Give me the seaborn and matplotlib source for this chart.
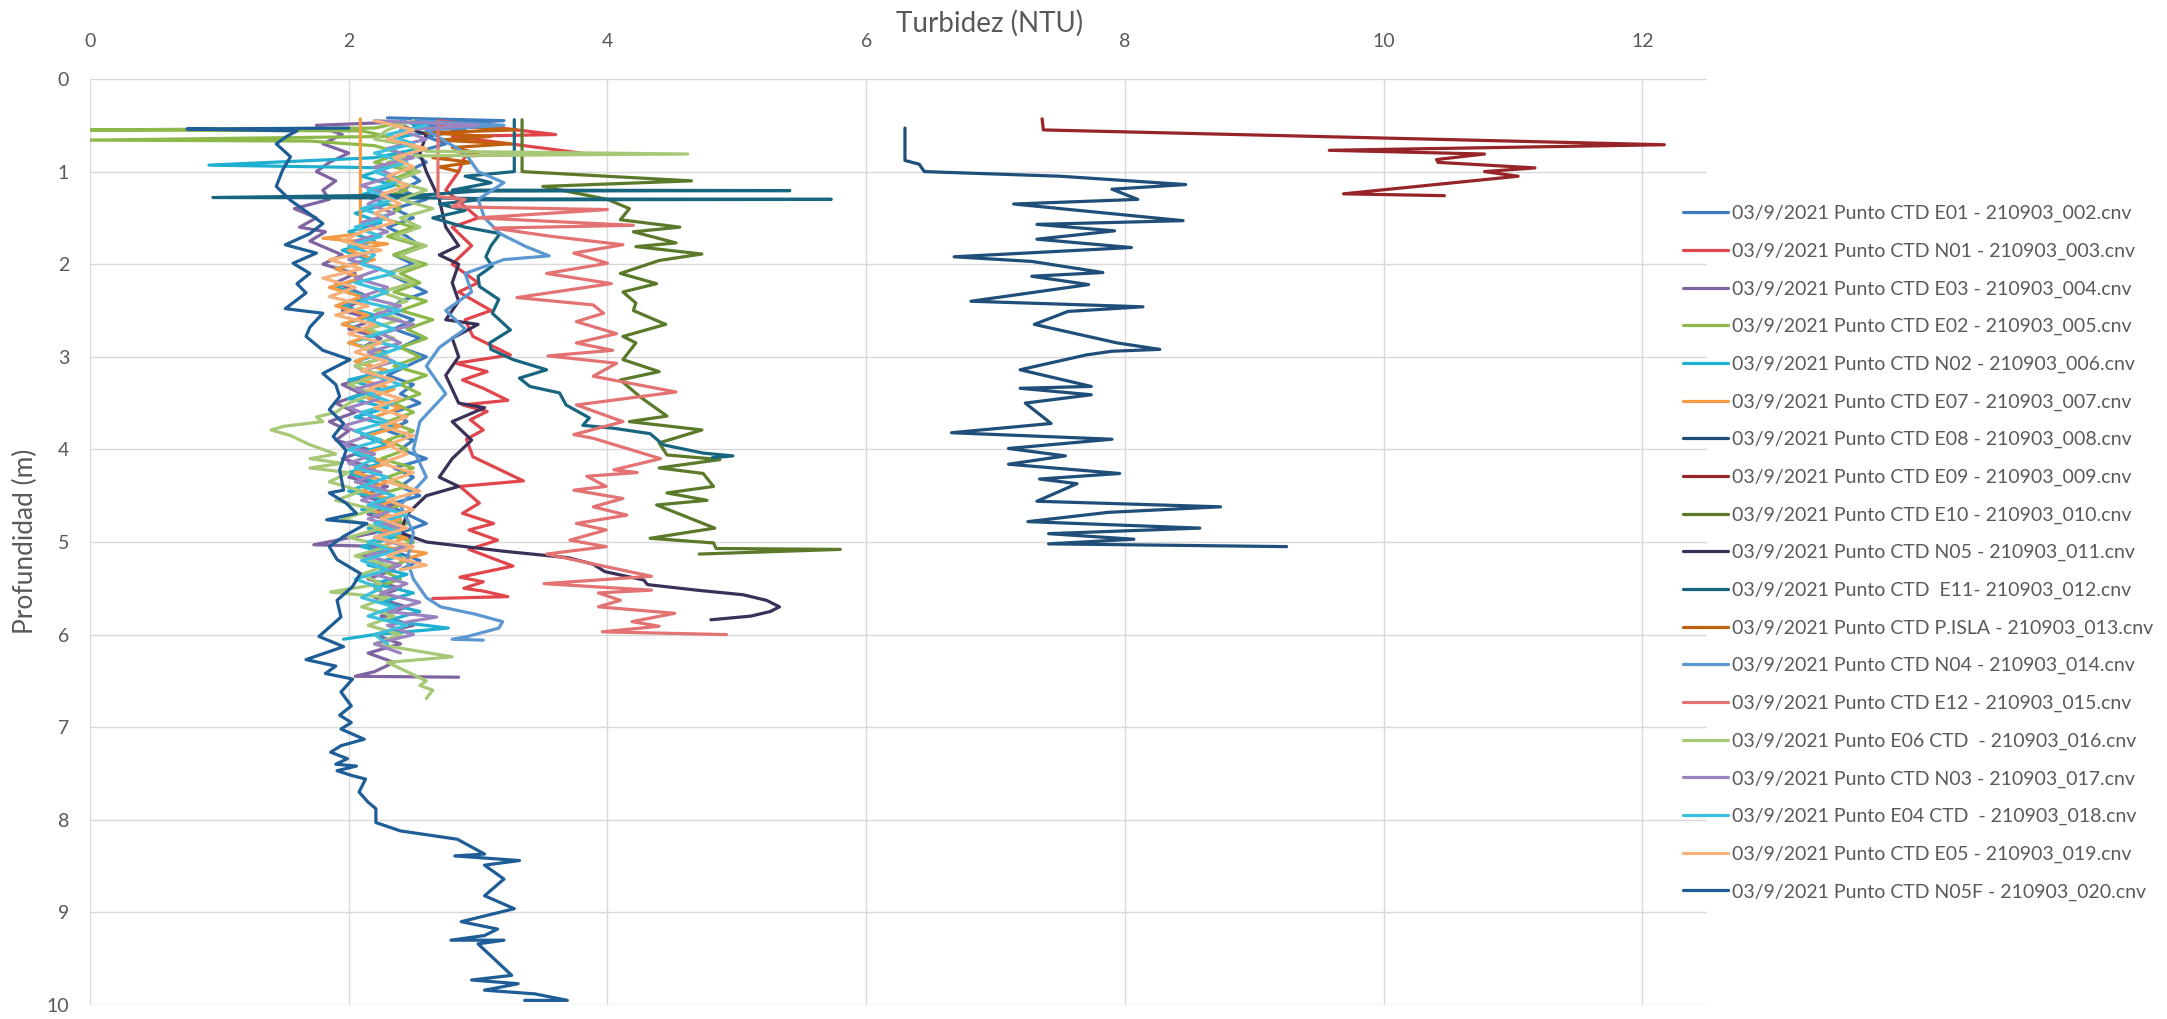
import pandas as pd
import matplotlib
matplotlib.use("Agg")
import matplotlib.pyplot as plt
import seaborn as sns

# --- datos: profundidad (m) y turbidez (NTU) por perfil ---
e01_prof = [0.42, 0.45, 0.5, 0.55, 0.62, 0.7, 0.8, 0.9, 1.0, 1.1, 1.2, 1.3, 1.4, 1.5, 1.6, 1.7, 1.8, 1.9, 2.0, 2.1,
            2.2, 2.3, 2.4, 2.5, 2.6, 2.7, 2.8, 2.9, 3.0, 3.1, 3.2, 3.3, 3.4, 3.5, 3.6, 3.7, 3.8, 3.9, 4.0, 4.1,
            4.2, 4.3, 4.4, 4.5, 4.6, 4.7, 4.8, 4.9, 5.0, 5.1, 5.2, 5.3]
e01_ntu = [2.3, 3.2, 2.5, 2.9, 2.6, 2.75, 2.5, 2.6, 2.45, 2.55, 2.4, 2.6, 2.35, 2.5, 2.3, 2.45, 2.55, 2.35, 2.5, 2.3,
           2.45, 2.6, 2.4, 2.3, 2.5, 2.35, 2.55, 2.4, 2.6, 2.45, 2.3, 2.5, 2.4, 2.55, 2.35, 2.45, 2.3, 2.5, 2.4, 2.6,
           2.35, 2.5, 2.4, 2.55, 2.3, 2.45, 2.6, 2.4, 2.5, 2.35, 2.55, 2.4]

n01_prof = [0.45, 0.6, 0.62, 0.8, 0.83, 1.0, 1.2, 1.5, 1.6, 1.8, 2.0, 2.2, 2.3, 2.5, 2.6, 2.78, 2.98, 3.07, 3.16,
            3.25, 3.34, 3.47, 3.52, 3.59, 3.68, 3.79, 3.89, 4.08, 4.34, 4.4, 4.58, 4.69, 4.8, 4.87, 4.98, 5.08,
            5.26, 5.38, 5.43, 5.5, 5.53, 5.59, 5.61]
n01_ntu = [2.7, 3.6, 2.8, 3.8, 2.9, 2.85, 2.75, 3.0, 2.8, 2.95, 2.8, 3.0, 2.85, 3.1, 2.9, 2.96, 3.25, 2.83, 3.07,
           2.88, 3.04, 3.23, 2.88, 3.07, 2.94, 3.04, 2.91, 2.96, 3.35, 2.86, 3.01, 2.88, 3.12, 2.93, 3.15, 2.93,
           3.27, 2.86, 3.04, 2.89, 3.04, 3.23, 2.65]

e03_prof = [0.47, 0.5, 0.6, 0.7, 0.8, 0.9, 1.0, 1.1, 1.2, 1.3, 1.4, 1.5, 1.6, 1.65, 1.75, 1.9, 2.0, 2.1, 2.2, 2.35,
            2.5, 2.6, 2.7, 2.8, 2.9, 3.0, 3.1, 3.2, 3.3, 3.4, 3.5, 3.6, 3.7, 3.8, 3.9, 4.0, 4.1, 4.2, 4.3, 4.4,
            4.5, 4.6, 4.7, 4.8, 4.9, 5.03, 5.05, 5.15, 5.3, 5.4, 5.5, 5.6, 5.7, 5.8, 5.9, 6.0, 6.1, 6.2, 6.3,
            6.4, 6.45, 6.46]
e03_ntu = [2.3, 1.75, 1.95, 1.8, 2.0, 1.85, 1.75, 1.9, 1.8, 1.85, 1.58, 1.75, 1.62, 1.82, 1.7, 1.95, 1.8, 2.05, 1.9,
           2.15, 1.95, 2.2, 2.0, 2.25, 2.1, 2.3, 2.05, 2.2, 1.95, 2.1, 1.9, 2.05, 1.85, 2.0, 1.9, 2.15, 1.95, 2.2,
           2.0, 2.3, 2.1, 2.35, 2.15, 2.4, 2.2, 1.73, 2.3, 2.1, 2.35, 2.15, 2.4, 2.2, 2.45, 2.25, 2.5, 2.2, 2.4,
           2.15, 2.35, 2.2, 2.05, 2.85]

e02_prof = [0.47, 0.53, 0.55, 0.56, 0.62, 0.66, 0.67, 0.72, 0.8, 0.9, 1.0, 1.1, 1.2, 1.3, 1.4, 1.5, 1.6, 1.7, 1.8,
            1.9, 2.0, 2.1, 2.2, 2.3, 2.4, 2.5, 2.6, 2.7, 2.8, 2.9, 3.0, 3.1, 3.2, 3.3, 3.4, 3.5, 3.6, 3.7, 3.8,
            3.9, 4.0, 4.1, 4.2, 4.3, 4.4, 4.5, 4.6, 4.7, 4.8, 4.9, 5.0, 5.1, 5.2, 5.3, 5.4, 5.5, 5.6]
e02_ntu = [2.4, 2.2, 0.0, 2.1, 2.3, 0.0, 1.7, 2.2, 2.4, 2.2, 2.5, 2.3, 2.45, 2.2, 2.4, 2.25, 2.5, 2.3, 2.55, 2.35,
           2.6, 2.4, 2.55, 2.35, 2.6, 2.4, 2.65, 2.45, 2.6, 2.4, 2.55, 2.35, 2.6, 2.4, 2.55, 2.35, 2.5, 2.3, 2.5,
           2.3, 2.45, 2.25, 2.5, 2.3, 2.45, 2.2, 2.4, 2.2, 2.45, 2.25, 2.5, 2.3, 2.45, 2.25, 2.4, 2.2, 2.35]

n02_prof = [0.45, 0.55, 0.65, 0.75, 0.85, 0.93, 0.96, 1.05, 1.15, 1.25, 1.35, 1.45, 1.55, 1.65, 1.75, 1.85, 1.95,
            2.05, 2.15, 2.25, 2.35, 2.45, 2.55, 2.65, 2.75, 2.85, 2.95, 3.05, 3.15, 3.25, 3.35, 3.45, 3.55, 3.65,
            3.75, 3.85, 3.95, 4.05, 4.15, 4.25, 4.35, 4.45, 4.55, 4.65, 4.75, 4.85, 4.95, 5.05, 5.15, 5.25, 5.35,
            5.45, 5.55, 5.65, 5.75, 5.85, 5.93, 6.0, 6.05]
n02_ntu = [2.4, 2.7, 2.3, 2.55, 2.2, 0.92, 2.3, 2.1, 2.35, 2.1, 2.3, 2.05, 2.25, 2.0, 2.2, 1.95, 2.15, 1.9, 2.1, 1.9,
           2.15, 1.95, 2.2, 1.95, 2.25, 2.0, 2.3, 2.05, 2.3, 2.0, 2.25, 2.0, 2.3, 2.05, 2.35, 2.1, 2.3, 2.05, 2.25,
           2.0, 2.2, 2.0, 2.3, 2.1, 2.4, 2.15, 2.35, 2.1, 2.4, 2.15, 2.45, 2.2, 2.5, 2.25, 2.55, 2.3, 2.77, 2.2,
           1.96]

e07_prof = [0.43, 1.67, 1.72, 1.78, 1.85, 1.95, 2.05, 2.15, 2.25, 2.35, 2.45, 2.55, 2.65, 2.75, 2.85, 2.95, 3.05,
            3.15, 3.25, 3.35, 3.45, 3.55, 3.65, 3.75, 3.85, 3.95, 4.05, 4.15, 4.25, 4.35, 4.45, 4.55, 4.65, 4.75,
            4.85, 4.95, 5.05, 5.12, 5.2]
e07_ntu = [2.09, 2.09, 1.8, 2.3, 2.0, 2.2, 1.9, 2.1, 1.85, 2.1, 1.9, 2.15, 1.95, 2.2, 2.0, 2.25, 2.05, 2.3, 2.1, 2.35,
           2.15, 2.4, 2.2, 2.4, 2.15, 2.35, 2.1, 2.3, 2.05, 2.3, 2.1, 2.35, 2.15, 2.4, 2.2, 2.45, 2.25, 2.6, 2.4]

e08_prof = [0.53, 0.88, 0.92, 1.0, 1.05, 1.14, 1.19, 1.3, 1.35, 1.53, 1.57, 1.64, 1.73, 1.82, 1.92, 1.97, 2.09,
            2.13, 2.22, 2.4, 2.46, 2.51, 2.65, 2.85, 2.92, 2.94, 2.98, 3.14, 3.32, 3.34, 3.41, 3.5, 3.72, 3.82,
            3.89, 3.99, 4.07, 4.16, 4.26, 4.32, 4.37, 4.56, 4.62, 4.68, 4.78, 4.85, 4.91, 4.97, 5.02, 5.05]
e08_ntu = [6.3, 6.3, 6.41, 6.45, 7.5, 8.47, 7.9, 8.1, 7.14, 8.45, 7.32, 7.92, 7.32, 8.05, 6.68, 7.28, 7.83, 7.28,
           7.72, 6.81, 8.14, 7.56, 7.3, 7.94, 8.27, 7.9, 7.7, 7.19, 7.74, 7.19, 7.74, 7.23, 7.43, 6.66, 7.9, 7.1,
           7.54, 7.1, 7.96, 7.34, 7.63, 7.32, 8.74, 7.87, 7.25, 8.58, 7.41, 8.07, 7.41, 9.25]

e09_prof = [0.43, 0.55, 0.71, 0.77, 0.81, 0.87, 0.9, 0.96, 1.0, 1.05, 1.24, 1.26]
e09_ntu = [7.36, 7.37, 12.17, 9.58, 10.78, 10.41, 10.42, 11.17, 10.78, 11.04, 9.69, 10.47]

e10_prof = [0.44, 1.0, 1.1, 1.16, 1.3, 1.4, 1.52, 1.6, 1.65, 1.77, 1.81, 1.89, 1.96, 2.1, 2.21, 2.3, 2.42, 2.5, 2.65,
            2.78, 2.85, 3.03, 3.16, 3.25, 3.43, 3.64, 3.7, 3.79, 3.93, 4.06, 4.11, 4.2, 4.26, 4.4, 4.47, 4.55,
            4.6, 4.85, 4.96, 5.01, 5.07, 5.08, 5.13]
e10_ntu = [3.34, 3.34, 4.65, 3.5, 4.0, 4.17, 4.1, 4.56, 4.2, 4.53, 4.22, 4.73, 4.4, 4.1, 4.38, 4.12, 4.22, 4.2, 4.45,
           4.12, 4.22, 4.12, 4.4, 4.1, 4.25, 4.46, 4.17, 4.73, 4.4, 4.46, 4.87, 4.4, 4.74, 4.82, 4.46, 4.77, 4.38,
           4.83, 4.33, 4.82, 4.84, 5.8, 4.71]

n05_prof = [0.5, 0.6, 0.8, 1.0, 1.3, 1.6, 1.8, 1.9, 2.0, 2.2, 2.4, 2.6, 2.65, 2.8, 3.0, 3.2, 3.5, 3.55, 3.7, 3.9,
            4.1, 4.3, 4.4, 4.5, 4.7, 4.9, 5.0, 5.1, 5.17, 5.24, 5.32, 5.41, 5.46, 5.52, 5.57, 5.63, 5.7, 5.75,
            5.8, 5.84]
n05_ntu = [2.4, 2.6, 2.55, 2.6, 2.7, 2.75, 2.85, 2.7, 2.85, 2.8, 2.85, 2.75, 3.0, 2.8, 2.85, 2.75, 2.85, 3.05, 2.8,
           2.95, 2.8, 2.7, 2.85, 2.6, 2.45, 2.4, 2.6, 3.2, 3.7, 3.89, 3.98, 4.28, 4.31, 4.69, 5.05, 5.23, 5.33,
           5.26, 5.11, 4.8]

e11_prof = [0.44, 1.0, 1.05, 1.12, 1.2, 1.205, 1.21, 1.25, 1.28, 1.285, 1.295, 1.3, 1.305, 1.35, 1.42, 1.5, 1.6,
            1.67, 1.8, 1.92, 2.02, 2.13, 2.24, 2.38, 2.53, 2.71, 2.85, 2.92, 3.03, 3.14, 3.23, 3.32, 3.39, 3.52,
            3.66, 3.74, 3.77, 3.83, 3.95, 4.04, 4.07, 4.09]
e11_ntu = [3.28, 3.28, 2.9, 3.1, 2.8, 5.41, 3.0, 2.6, 0.95, 2.7, 3.2, 5.73, 3.0, 2.7, 2.9, 2.65, 2.9, 3.17, 3.1,
           3.06, 3.11, 3.0, 3.01, 3.16, 3.11, 3.25, 3.09, 3.1, 3.27, 3.53, 3.32, 3.4, 3.63, 3.68, 3.86, 3.81, 4.04,
           4.33, 4.43, 4.74, 4.97, 4.81]

pisla_prof = [0.5, 0.55, 0.58, 0.62, 0.66, 0.7, 0.74, 0.8, 0.85, 0.9, 0.95, 1.0]
pisla_ntu = [2.7, 3.3, 2.6, 3.1, 2.7, 3.25, 2.8, 3.0, 2.65, 2.95, 2.7, 2.85]

n04_prof = [0.45, 0.5, 0.55, 0.8, 1.0, 1.12, 1.3, 1.5, 1.67, 1.81, 1.91, 1.95, 2.1, 2.3, 2.5, 2.7, 2.9, 3.1, 3.4,
            3.7, 4.0, 4.3, 4.6, 4.9, 5.2, 5.4, 5.6, 5.7, 5.78, 5.86, 5.93, 6.02, 6.05, 6.06]
n04_ntu = [2.5, 3.2, 2.6, 2.9, 3.0, 3.2, 3.0, 3.05, 3.17, 3.37, 3.55, 3.2, 2.9, 2.95, 2.75, 2.9, 2.7, 2.6, 2.75,
           2.55, 2.5, 2.6, 2.4, 2.5, 2.45, 2.5, 2.6, 2.71, 2.98, 3.19, 3.16, 2.92, 2.8, 3.04]

e12_prof = [0.46, 1.27, 1.3, 1.38, 1.41, 1.5, 1.58, 1.61, 1.7, 1.79, 1.88, 1.99, 2.1, 2.21, 2.36, 2.44, 2.53, 2.62,
            2.75, 2.85, 2.93, 2.99, 3.07, 3.21, 3.38, 3.52, 3.7, 3.84, 3.88, 4.1, 4.22, 4.25, 4.29, 4.4, 4.44,
            4.53, 4.62, 4.71, 4.8, 4.87, 4.98, 5.05, 5.13, 5.37, 5.45, 5.52, 5.55, 5.63, 5.7, 5.77, 5.86, 5.91,
            5.97, 6.0]
e12_ntu = [2.69, 2.69, 2.9, 2.8, 4.0, 3.0, 4.2, 3.12, 3.57, 4.12, 3.74, 4.0, 3.53, 4.03, 3.3, 3.89, 3.97, 3.76,
           4.07, 3.76, 4.04, 3.54, 4.07, 3.89, 4.53, 3.76, 4.12, 3.74, 3.89, 4.41, 4.05, 4.23, 3.84, 3.99, 3.74,
           4.12, 3.89, 4.15, 3.76, 3.99, 3.71, 3.99, 3.53, 4.34, 3.51, 4.34, 3.93, 4.1, 3.93, 4.52, 4.19, 4.4,
           3.96, 4.92]

e06_prof = [0.45, 0.55, 0.65, 0.7, 0.78, 0.81, 0.83, 0.9, 1.0, 1.1, 1.2, 1.3, 1.4, 1.5, 1.6, 1.7, 1.8, 1.9, 2.0,
            2.1, 2.2, 2.3, 2.4, 2.5, 2.6, 2.7, 2.8, 2.9, 3.0, 3.1, 3.2, 3.3, 3.4, 3.5, 3.6, 3.65, 3.7, 3.75, 3.79,
            3.85, 3.95, 4.05, 4.1, 4.15, 4.2, 4.25, 4.35, 4.45, 4.55, 4.65, 4.75, 4.85, 4.95, 5.05, 5.15, 5.25,
            5.35, 5.45, 5.54, 5.6, 5.7, 5.8, 5.9, 6.0, 6.1, 6.24, 6.3, 6.4, 6.5, 6.55, 6.6, 6.69]
e06_ntu = [2.5, 2.3, 2.2, 2.4, 2.6, 4.62, 2.5, 2.3, 2.55, 2.35, 2.6, 2.4, 2.65, 2.4, 2.55, 2.35, 2.6, 2.4, 2.55,
           2.3, 2.5, 2.25, 2.45, 2.2, 2.4, 2.15, 2.35, 2.1, 2.3, 2.05, 2.25, 2.0, 2.2, 2.0, 1.9, 1.75, 1.8, 1.5,
           1.4, 1.55, 1.7, 1.9, 1.7, 1.95, 1.7, 2.0, 1.85, 2.1, 1.9, 2.2, 1.95, 2.25, 2.0, 2.3, 2.05, 2.3, 2.1,
           2.25, 1.86, 2.3, 2.1, 2.35, 2.15, 2.4, 2.2, 2.8, 2.3, 2.45, 2.6, 2.55, 2.65, 2.6]

n03_prof = [0.45, 0.5, 0.55, 0.65, 0.75, 0.85, 0.95, 1.05, 1.15, 1.25, 1.35, 1.45, 1.55, 1.65, 1.75, 1.85, 1.95,
            2.05, 2.15, 2.25, 2.35, 2.45, 2.55, 2.65, 2.75, 2.85, 2.95, 3.05, 3.15, 3.25, 3.35, 3.45, 3.55, 3.65,
            3.75, 3.85, 3.95, 4.05, 4.15, 4.25, 4.35, 4.45, 4.55, 4.65, 4.75, 4.85, 4.95, 5.05, 5.15, 5.25, 5.35,
            5.45, 5.55, 5.65, 5.75, 5.81, 5.9, 6.0, 6.1, 6.2]
n03_ntu = [2.2, 3.0, 2.4, 2.6, 2.3, 2.5, 2.2, 2.35, 2.1, 2.3, 2.15, 2.35, 2.1, 2.3, 2.05, 2.2, 2.0, 2.25, 2.05, 2.3,
           2.1, 2.4, 2.2, 2.5, 2.25, 2.4, 2.15, 2.35, 2.1, 2.3, 2.05, 2.25, 2.0, 2.2, 1.95, 2.15, 1.95, 2.2, 2.0,
           2.25, 2.05, 2.3, 2.1, 2.35, 2.15, 2.4, 2.2, 2.45, 2.15, 2.4, 2.2, 2.45, 2.25, 2.55, 2.3, 2.68, 2.3, 2.5,
           2.2, 2.4]

e04_prof = [0.5, 0.6, 0.7, 0.8, 0.9, 1.0, 1.1, 1.2, 1.3, 1.4, 1.5, 1.6, 1.7, 1.8, 1.9, 2.0, 2.1, 2.2, 2.3, 2.4,
            2.5, 2.6, 2.7, 2.8, 2.9, 3.0, 3.1, 3.2, 3.3, 3.4, 3.5, 3.6, 3.7, 3.8, 3.9, 4.0, 4.1, 4.2, 4.3, 4.4,
            4.5, 4.6, 4.7, 4.8, 4.9, 5.0, 5.1, 5.2, 5.3, 5.4, 5.5, 5.6, 5.7, 5.8, 5.9, 6.0, 6.1]
e04_ntu = [2.6, 2.3, 2.5, 2.2, 2.45, 2.2, 2.4, 2.15, 2.35, 2.1, 2.3, 2.05, 2.25, 2.0, 2.2, 2.1, 2.35, 2.05, 2.3, 2.1,
           2.4, 2.15, 2.35, 2.1, 2.4, 2.2, 2.45, 2.2, 2.4, 2.15, 2.35, 2.1, 2.3, 2.05, 2.25, 2.0, 2.2, 2.05, 2.3,
           2.1, 2.35, 2.15, 2.45, 2.2, 2.4, 2.15, 2.35, 2.1, 2.3, 2.05, 2.25, 2.1, 2.35, 2.15, 2.45, 2.2, 2.3]

e05_prof = [0.45, 0.55, 0.65, 0.75, 0.85, 0.95, 1.05, 1.15, 1.25, 1.35, 1.45, 1.55, 1.65, 1.75, 1.85, 1.95, 2.05,
            2.15, 2.25, 2.35, 2.45, 2.55, 2.65, 2.75, 2.85, 2.95, 3.05, 3.15, 3.25, 3.35, 3.45, 3.55, 3.65, 3.75,
            3.85, 3.95, 4.05, 4.15, 4.25, 4.35, 4.45, 4.55, 4.65, 4.75, 4.85, 4.95, 5.05, 5.15, 5.25, 5.3]
e05_ntu = [2.2, 2.5, 2.3, 2.6, 2.35, 2.5, 2.3, 2.45, 2.25, 2.4, 2.2, 2.35, 2.1, 1.95, 2.25, 1.85, 2.1, 1.8, 2.05,
           1.85, 2.15, 1.9, 2.2, 2.0, 2.25, 2.05, 2.3, 2.1, 2.35, 2.15, 2.4, 2.2, 2.45, 2.25, 2.5, 2.3, 2.45, 2.25,
           2.5, 2.3, 2.55, 2.3, 2.5, 2.25, 2.45, 2.2, 2.5, 2.3, 2.6, 2.4]

n05f_prof = [0.53, 0.54, 0.56, 0.62, 0.7, 0.84, 0.98, 1.16, 1.31, 1.41, 1.56, 1.67, 1.79, 1.88, 1.99, 2.1, 2.21,
             2.31, 2.48, 2.53, 2.68, 2.78, 2.93, 3.03, 3.18, 3.3, 3.43, 3.57, 3.72, 3.86, 4.01, 4.22, 4.44, 4.47,
             4.58, 4.69, 4.76, 4.8, 4.94, 5.05, 5.19, 5.34, 5.48, 5.63, 5.81, 6.02, 6.13, 6.27, 6.34, 6.42, 6.48,
             6.62, 6.77, 6.87, 6.95, 7.02, 7.13, 7.2, 7.27, 7.34, 7.4, 7.42, 7.47, 7.52, 7.56, 7.7, 7.81, 7.88,
             8.03, 8.12, 8.21, 8.37, 8.39, 8.44, 8.49, 8.64, 8.82, 8.96, 9.1, 9.18, 9.25, 9.3, 9.3, 9.34, 9.68,
             9.73, 9.77, 9.84, 9.88, 9.95, 9.95]
n05f_ntu = [2.0, 0.75, 1.6, 1.52, 1.44, 1.55, 1.49, 1.44, 1.55, 1.65, 1.8, 1.7, 1.51, 1.75, 1.57, 1.7, 1.6, 1.67,
            1.51, 1.8, 1.7, 1.67, 1.8, 2.01, 1.8, 1.9, 1.93, 1.85, 1.96, 1.88, 1.98, 1.93, 1.96, 1.85, 1.98, 2.06,
            1.83, 2.14, 1.96, 1.85, 1.91, 2.09, 2.03, 1.91, 1.94, 1.77, 1.96, 1.67, 1.9, 1.82, 2.03, 1.94, 2.02,
            1.93, 2.02, 1.94, 2.12, 1.94, 1.86, 1.99, 1.9, 2.06, 1.91, 2.02, 2.13, 2.08, 2.15, 2.21, 2.21, 2.4,
            2.84, 3.05, 2.82, 3.32, 3.05, 3.2, 3.05, 3.28, 2.87, 3.15, 3.05, 2.79, 3.2, 3.0, 3.26, 2.95, 3.31, 3.05,
            3.44, 3.69, 3.36]

etiquetas = [
    "03/9/2021 Punto CTD E01 - 210903_002.cnv",
    "03/9/2021 Punto CTD N01 - 210903_003.cnv",
    "03/9/2021 Punto CTD E03 - 210903_004.cnv",
    "03/9/2021 Punto CTD E02 - 210903_005.cnv",
    "03/9/2021 Punto CTD N02 - 210903_006.cnv",
    "03/9/2021 Punto CTD E07 - 210903_007.cnv",
    "03/9/2021 Punto CTD E08 - 210903_008.cnv",
    "03/9/2021 Punto CTD E09 - 210903_009.cnv",
    "03/9/2021 Punto CTD E10 - 210903_010.cnv",
    "03/9/2021 Punto CTD N05 - 210903_011.cnv",
    "03/9/2021 Punto CTD  E11- 210903_012.cnv",
    "03/9/2021 Punto CTD P.ISLA - 210903_013.cnv",
    "03/9/2021 Punto CTD N04 - 210903_014.cnv",
    "03/9/2021 Punto CTD E12 - 210903_015.cnv",
    "03/9/2021 Punto E06 CTD  - 210903_016.cnv",
    "03/9/2021 Punto CTD N03 - 210903_017.cnv",
    "03/9/2021 Punto E04 CTD  - 210903_018.cnv",
    "03/9/2021 Punto CTD E05 - 210903_019.cnv",
    "03/9/2021 Punto CTD N05F - 210903_020.cnv",
]
colores = ["#3E7CC0", "#E0464B", "#8064A2", "#8DB94A", "#1FAFD0", "#F59A45", "#1F4E79",
           "#962428", "#5A7A2A", "#3B3058", "#17657E", "#C0600E", "#5B97D0", "#E37272",
           "#A7C877", "#9C84C0", "#3CC0DD", "#F7B07A", "#1E5D96"]

perfiles = [(e01_prof, e01_ntu), (n01_prof, n01_ntu), (e03_prof, e03_ntu), (e02_prof, e02_ntu),
            (n02_prof, n02_ntu), (e07_prof, e07_ntu), (e08_prof, e08_ntu), (e09_prof, e09_ntu),
            (e10_prof, e10_ntu), (n05_prof, n05_ntu), (e11_prof, e11_ntu), (pisla_prof, pisla_ntu),
            (n04_prof, n04_ntu), (e12_prof, e12_ntu), (e06_prof, e06_ntu), (n03_prof, n03_ntu),
            (e04_prof, e04_ntu), (e05_prof, e05_ntu), (n05f_prof, n05f_ntu)]

filas = []
for etq, (prof, ntu) in zip(etiquetas, perfiles):
    for p, t in zip(prof, ntu):
        filas.append({"serie": etq, "prof": p, "ntu": t})
df = pd.DataFrame(filas)

sns.set_style("white")
plt.rcParams["font.family"] = ["Lato", "DejaVu Sans"]
gris = "#595959"

W, H = 2167, 1019
fig = plt.figure(figsize=(W / 100, H / 100), dpi=100)
ax = fig.add_axes([90 / W, 1 - 1005 / H, (1707 - 90) / W, (1005 - 79) / H])

sns.lineplot(data=df, x="ntu", y="prof", hue="serie", hue_order=etiquetas, palette=colores,
             sort=False, estimator=None, linewidth=2.3, ax=ax)
for ln in ax.get_lines():
    ln.set_solid_joinstyle("round")

ax.set_xlim(0, 12.5)
ax.set_ylim(10, 0)
ax.xaxis.tick_top()
ax.set_xticks(range(0, 13, 2))
ax.set_yticks(range(0, 11))
ax.grid(True, color="#D9D9D9", linewidth=1.0)
ax.set_axisbelow(True)
for s in ax.spines.values():
    s.set_visible(False)
ax.tick_params(axis="x", length=0, labelsize=14, colors=gris, pad=21)
ax.tick_params(axis="y", length=0, labelsize=14, colors=gris, pad=15)
ax.set_xlabel("")
ax.set_ylabel("")

fig.text(990 / W, 1 - 23 / H, "Turbidez (NTU)", ha="center", va="center", fontsize=20, color=gris)
fig.text(25 / W, 1 - 541 / H, "Profundidad (m)", ha="center", va="center", rotation=90,
         fontsize=19, color=gris)

handles, labels = ax.get_legend_handles_labels()
ax.legend(handles, labels, loc="upper left", bbox_to_anchor=(1683 / W, 1 - 205 / H),
          bbox_transform=fig.transFigure, frameon=False, fontsize=14, handlelength=2.3,
          handletextpad=0.2, labelspacing=1.05, borderpad=0, borderaxespad=0, labelcolor=gris)

fig.savefig("out.png", dpi=100)
